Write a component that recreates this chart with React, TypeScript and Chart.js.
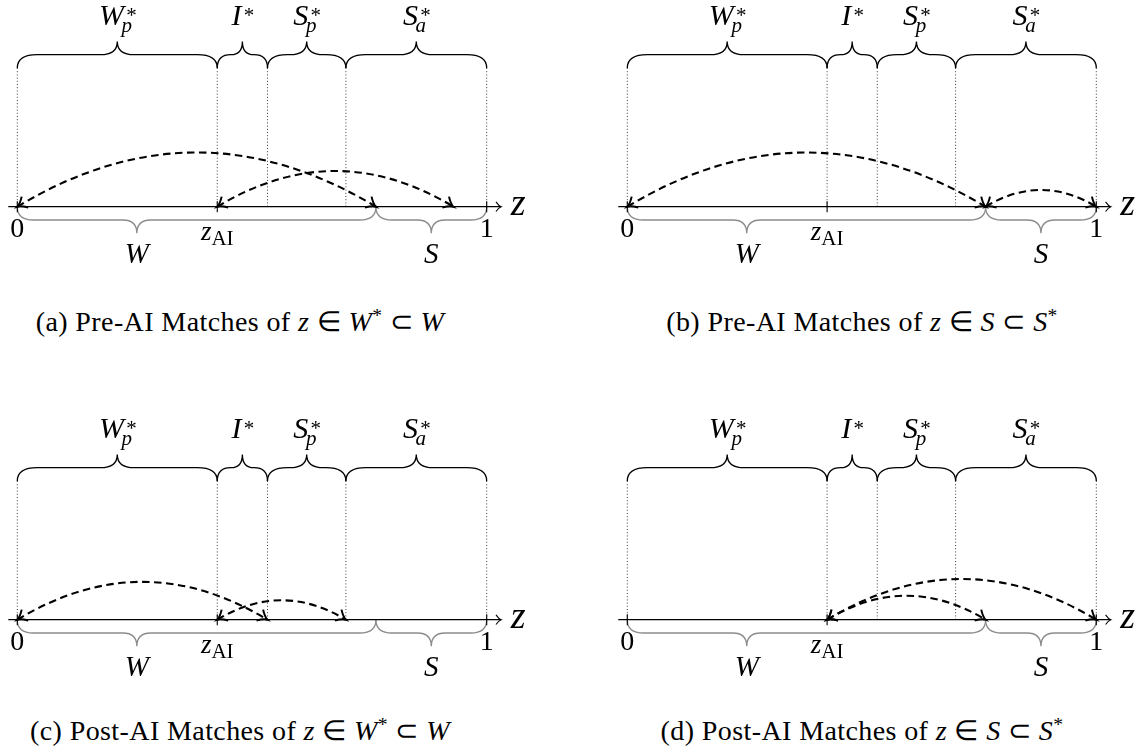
import React, { useEffect, useRef } from "react";
import { Chart, registerables } from "chart.js";

Chart.register(...registerables);

// ---------------- data ----------------
const boundaries = [0, 0.426, 0.533, 0.7, 1]; // W_p*, I*, S_p*, S_a* cut points
const regionNames = ["W", "I", "S", "S"];
const regionSubs = ["p", "", "p", "a"];
const zAI = 0.426;
const wsCut = 0.764;
const lowerNames = ["W", "S"];
const lowerStarts = [0, wsCut];
const lowerEnds = [wsCut, 1];
const tickValues = [0, zAI, 1];
const arcsA = [[0, 0.764], [0.426, 0.929]];
const arcsB = [[0, 0.764], [0.764, 1]];
const arcsC = [[0, 0.533], [0.426, 0.7]];
const arcsD = [[0.426, 1], [0.426, 0.764]];
const captionTags = ["(a)", "(b)", "(c)", "(d)"];
const captionPhases = ["Pre-AI", "Pre-AI", "Post-AI", "Post-AI"];
const captionLeftSet = ["W", "S", "W", "S"];
const captionRightSet = ["W", "S", "W", "S"];
const captionStarOnLeft = [true, false, true, false];

// ---------------- layout (styles) ----------------
const PANEL_W = 560;
const PANEL_H = 290;
const Y_MAX = 206.7;
const Y_MIN = Y_MAX - PANEL_H;
const SERIF = '"Liberation Serif", "Times New Roman", serif';

const panelLayout = [
  { left: 0, top: 0, padL: 17.3, padR: 73.3, arcs: arcsA },
  { left: 584, top: 0, padL: 43.3, padR: 47.7, arcs: arcsB },
  { left: 0, top: 413, padL: 17.3, padR: 73.3, arcs: arcsC },
  { left: 584, top: 413, padL: 43.3, padR: 47.7, arcs: arcsD },
];
const captionCenters = [
  { x: 240, y: 322 },
  { x: 862, y: 322 },
  { x: 240, y: 731 },
  { x: 862, y: 731 },
];

function drawBrace(
  ctx: CanvasRenderingContext2D,
  xa: number,
  xb: number,
  yEnd: number,
  dir: number,
  amp: number,
  aspect: number,
  rEnd: number,
  rTip: number
) {
  const yLine = yEnd + dir * amp;
  const yTip = yEnd + 2 * dir * amp;
  const xm = xa + (xb - xa) * aspect;
  const sL = Math.min(1, (xm - xa) / (rEnd + rTip));
  const sR = Math.min(1, (xb - xm) / (rEnd + rTip));
  ctx.beginPath();
  ctx.moveTo(xa, yEnd);
  ctx.quadraticCurveTo(xa, yLine, xa + rEnd * sL, yLine);
  ctx.lineTo(xm - rTip * sL, yLine);
  ctx.quadraticCurveTo(xm, yLine, xm, yTip);
  ctx.quadraticCurveTo(xm, yLine, xm + rTip * sR, yLine);
  ctx.lineTo(xb - rEnd * sR, yLine);
  ctx.quadraticCurveTo(xb, yLine, xb, yEnd);
  ctx.stroke();
}

function drawMathLabel(
  ctx: CanvasRenderingContext2D,
  cx: number,
  base: number,
  main: string,
  sub: string,
  sup: string,
  size: number
) {
  const mainFont = `italic ${size}px ${SERIF}`;
  const smallFont = `italic ${Math.round(size * 0.7)}px ${SERIF}`;
  ctx.font = mainFont;
  const wm = ctx.measureText(main).width;
  ctx.font = smallFont;
  const ws = sub ? ctx.measureText(sub).width : 0;
  const wp = sup ? ctx.measureText(sup).width : 0;
  const subOff = wm - size * 0.08;
  const supOff = wm + size * 0.04;
  const total = Math.max(wm, sub ? subOff + ws : 0, sup ? supOff + wp : 0);
  const x = cx - total / 2;
  ctx.textAlign = "left";
  ctx.textBaseline = "alphabetic";
  ctx.font = mainFont;
  ctx.fillText(main, x, base);
  ctx.font = smallFont;
  if (sub) ctx.fillText(sub, x + subOff, base + size * 0.24);
  if (sup) ctx.fillText(sup, x + supOff, base - size * 0.08);
}

function drawArrowHead(
  ctx: CanvasRenderingContext2D,
  tx: number,
  ty: number,
  ang: number,
  len: number,
  spread: number
) {
  ctx.beginPath();
  ctx.moveTo(tx - len * Math.cos(ang - spread), ty - len * Math.sin(ang - spread));
  ctx.quadraticCurveTo(
    tx - len * 0.35 * Math.cos(ang - spread * 0.4),
    ty - len * 0.35 * Math.sin(ang - spread * 0.4),
    tx,
    ty
  );
  ctx.quadraticCurveTo(
    tx - len * 0.35 * Math.cos(ang + spread * 0.4),
    ty - len * 0.35 * Math.sin(ang + spread * 0.4),
    tx - len * Math.cos(ang + spread),
    ty - len * Math.sin(ang + spread)
  );
  ctx.stroke();
}

function makeDiagramPlugin(arcs: number[][]) {
  return {
    id: "matchDiagram",
    afterDraw(chart: any) {
      const ctx: CanvasRenderingContext2D = chart.ctx;
      const xs = chart.scales.x;
      const ys = chart.scales.y;
      const X = (v: number) => xs.getPixelForValue(v);
      const Y = (v: number) => ys.getPixelForValue(v);
      const ay = Y(0);
      ctx.save();
      ctx.lineCap = "butt";

      // dotted guides
      ctx.strokeStyle = "#3a3a3a";
      ctx.lineWidth = 1;
      ctx.setLineDash([1, 2.2]);
      boundaries.forEach((b) => {
        ctx.beginPath();
        ctx.moveTo(X(b), Y(138.7));
        ctx.lineTo(X(b), ay);
        ctx.stroke();
      });
      ctx.setLineDash([]);

      // top braces + labels
      ctx.strokeStyle = "#000";
      ctx.lineWidth = 1.3;
      for (let i = 0; i < regionNames.length; i++) {
        const xa = X(boundaries[i]);
        const xb = X(boundaries[i + 1]);
        drawBrace(ctx, xa, xb, Y(138.7), -1, 13.3, 0.5, 20, 17);
        ctx.fillStyle = "#000";
        drawMathLabel(ctx, (xa + xb) / 2, Y(182), regionNames[i], regionSubs[i], "*", 30);
      }

      // bottom braces (gray) + labels
      ctx.strokeStyle = "#8c8c8c";
      ctx.lineWidth = 1.3;
      for (let i = 0; i < lowerNames.length; i++) {
        const xa = X(lowerStarts[i]);
        const xb = X(lowerEnds[i]);
        const aspect = i === 0 ? 1 / 3 : 0.5;
        drawBrace(ctx, xa, xb, ay, 1, 13.3, aspect, 16, 14);
        ctx.fillStyle = "#000";
        drawMathLabel(ctx, xa + (xb - xa) * aspect, Y(-56.6), lowerNames[i], "", "", 29);
      }

      // axis
      ctx.strokeStyle = "#000";
      ctx.lineWidth = 1.3;
      const xEnd = X(1) + 14.4;
      ctx.beginPath();
      ctx.moveTo(X(0) - 9, ay);
      ctx.lineTo(xEnd, ay);
      ctx.stroke();
      ctx.lineWidth = 1.1;
      drawArrowHead(ctx, xEnd, ay, 0, 7, 0.75);

      // ticks
      ctx.lineWidth = 1.1;
      tickValues.forEach((v) => {
        ctx.beginPath();
        ctx.moveTo(X(v), ay - 5.5);
        ctx.lineTo(X(v), ay + 5.5);
        ctx.stroke();
      });

      // tick labels
      ctx.fillStyle = "#000";
      ctx.textBaseline = "alphabetic";
      ctx.textAlign = "center";
      ctx.font = `28px ${SERIF}`;
      ctx.fillText("0", X(0), Y(-30.3));
      ctx.fillText("1", X(1), Y(-30.3));
      {
        ctx.font = `italic 27px ${SERIF}`;
        const wz = ctx.measureText("z").width;
        ctx.font = `21px ${SERIF}`;
        const wai = ctx.measureText("AI").width;
        const x0 = X(zAI) - (wz + wai) / 2;
        ctx.textAlign = "left";
        ctx.font = `italic 27px ${SERIF}`;
        ctx.fillText("z", x0, Y(-33.5));
        ctx.font = `21px ${SERIF}`;
        ctx.fillText("AI", x0 + wz, Y(-38.5));
      }
      // axis name
      ctx.textAlign = "left";
      ctx.font = `italic 38px ${SERIF}`;
      ctx.fillText("z", X(1) + 24, ay + 8.5);

      // match arcs
      const bend = (31 * Math.PI) / 180;
      arcs.forEach(([a, b]) => {
        const lo = Math.min(a, b);
        const hi = Math.max(a, b);
        const x0 = X(lo);
        const x1 = X(hi);
        const L = x1 - x0;
        const d = 0.3915 * L;
        const c1x = x0 + d * Math.cos(bend);
        const c1y = ay - d * Math.sin(bend);
        const c2x = x1 - d * Math.cos(bend);
        const c2y = ay - d * Math.sin(bend);
        ctx.strokeStyle = "#000";
        ctx.lineWidth = 2.1;
        ctx.setLineDash([7.5, 4.5]);
        ctx.beginPath();
        ctx.moveTo(x0, ay);
        ctx.bezierCurveTo(c1x, c1y, c2x, c2y, x1, ay);
        ctx.stroke();
        ctx.setLineDash([]);
        ctx.lineWidth = 2;
        drawArrowHead(ctx, x0, ay, Math.atan2(ay - c1y, x0 - c1x), 11, 0.62);
        drawArrowHead(ctx, x1, ay, Math.atan2(ay - c2y, x1 - c2x), 11, 0.62);
      });
      ctx.restore();
    },
  };
}

function Panel({ idx }: { idx: number }) {
  const ref = useRef<HTMLCanvasElement | null>(null);
  const lay = panelLayout[idx];
  useEffect(() => {
    if (!ref.current) return;
    const chart = new Chart(ref.current, {
      type: "scatter",
      data: {
        datasets: [
          {
            data: boundaries.map((b) => ({ x: b, y: 0 })),
            pointRadius: 0,
            showLine: false,
          },
        ],
      },
      options: {
        animation: false,
        responsive: false,
        maintainAspectRatio: false,
        events: [],
        layout: { padding: { left: lay.padL, right: lay.padR, top: 0, bottom: 0 } },
        scales: {
          x: { type: "linear", min: 0, max: 1, display: false },
          y: { type: "linear", min: Y_MIN, max: Y_MAX, display: false },
        },
        plugins: { legend: { display: false }, tooltip: { enabled: false } },
      },
      plugins: [makeDiagramPlugin(lay.arcs)],
    } as any);
    return () => chart.destroy();
  }, []);
  return (
    <canvas
      ref={ref}
      width={PANEL_W}
      height={PANEL_H}
      style={{
        position: "absolute",
        left: lay.left,
        top: lay.top,
        width: PANEL_W,
        height: PANEL_H,
      }}
    />
  );
}

function Caption({ idx }: { idx: number }) {
  const c = captionCenters[idx];
  const it: React.CSSProperties = { fontStyle: "italic" };
  const star = <sup style={{ fontSize: "0.7em", verticalAlign: "0.45em", lineHeight: 0 }}>*</sup>;
  return (
    <div
      style={{
        position: "absolute",
        left: c.x - 300,
        top: c.y - 17,
        width: 600,
        height: 34,
        lineHeight: "34px",
        textAlign: "center",
        fontFamily: SERIF,
        fontSize: 28,
        color: "#000",
        whiteSpace: "nowrap",
        letterSpacing: "0.4px",
      }}
    >
      {captionTags[idx]} {captionPhases[idx]} Matches of <span style={it}>z</span> ∈{" "}
      <span style={it}>{captionLeftSet[idx]}</span>
      {captionStarOnLeft[idx] ? star : null} ⊂ <span style={it}>{captionRightSet[idx]}</span>
      {captionStarOnLeft[idx] ? null : star}
    </div>
  );
}

export default function App() {
  return (
    <div
      style={{
        position: "fixed",
        left: 0,
        top: 0,
        width: 1144,
        height: 753,
        background: "#fff",
        overflow: "hidden",
      }}
    >
      {[0, 1, 2, 3].map((i) => (
        <Panel key={"p" + i} idx={i} />
      ))}
      {[0, 1, 2, 3].map((i) => (
        <Caption key={"c" + i} idx={i} />
      ))}
    </div>
  );
}
